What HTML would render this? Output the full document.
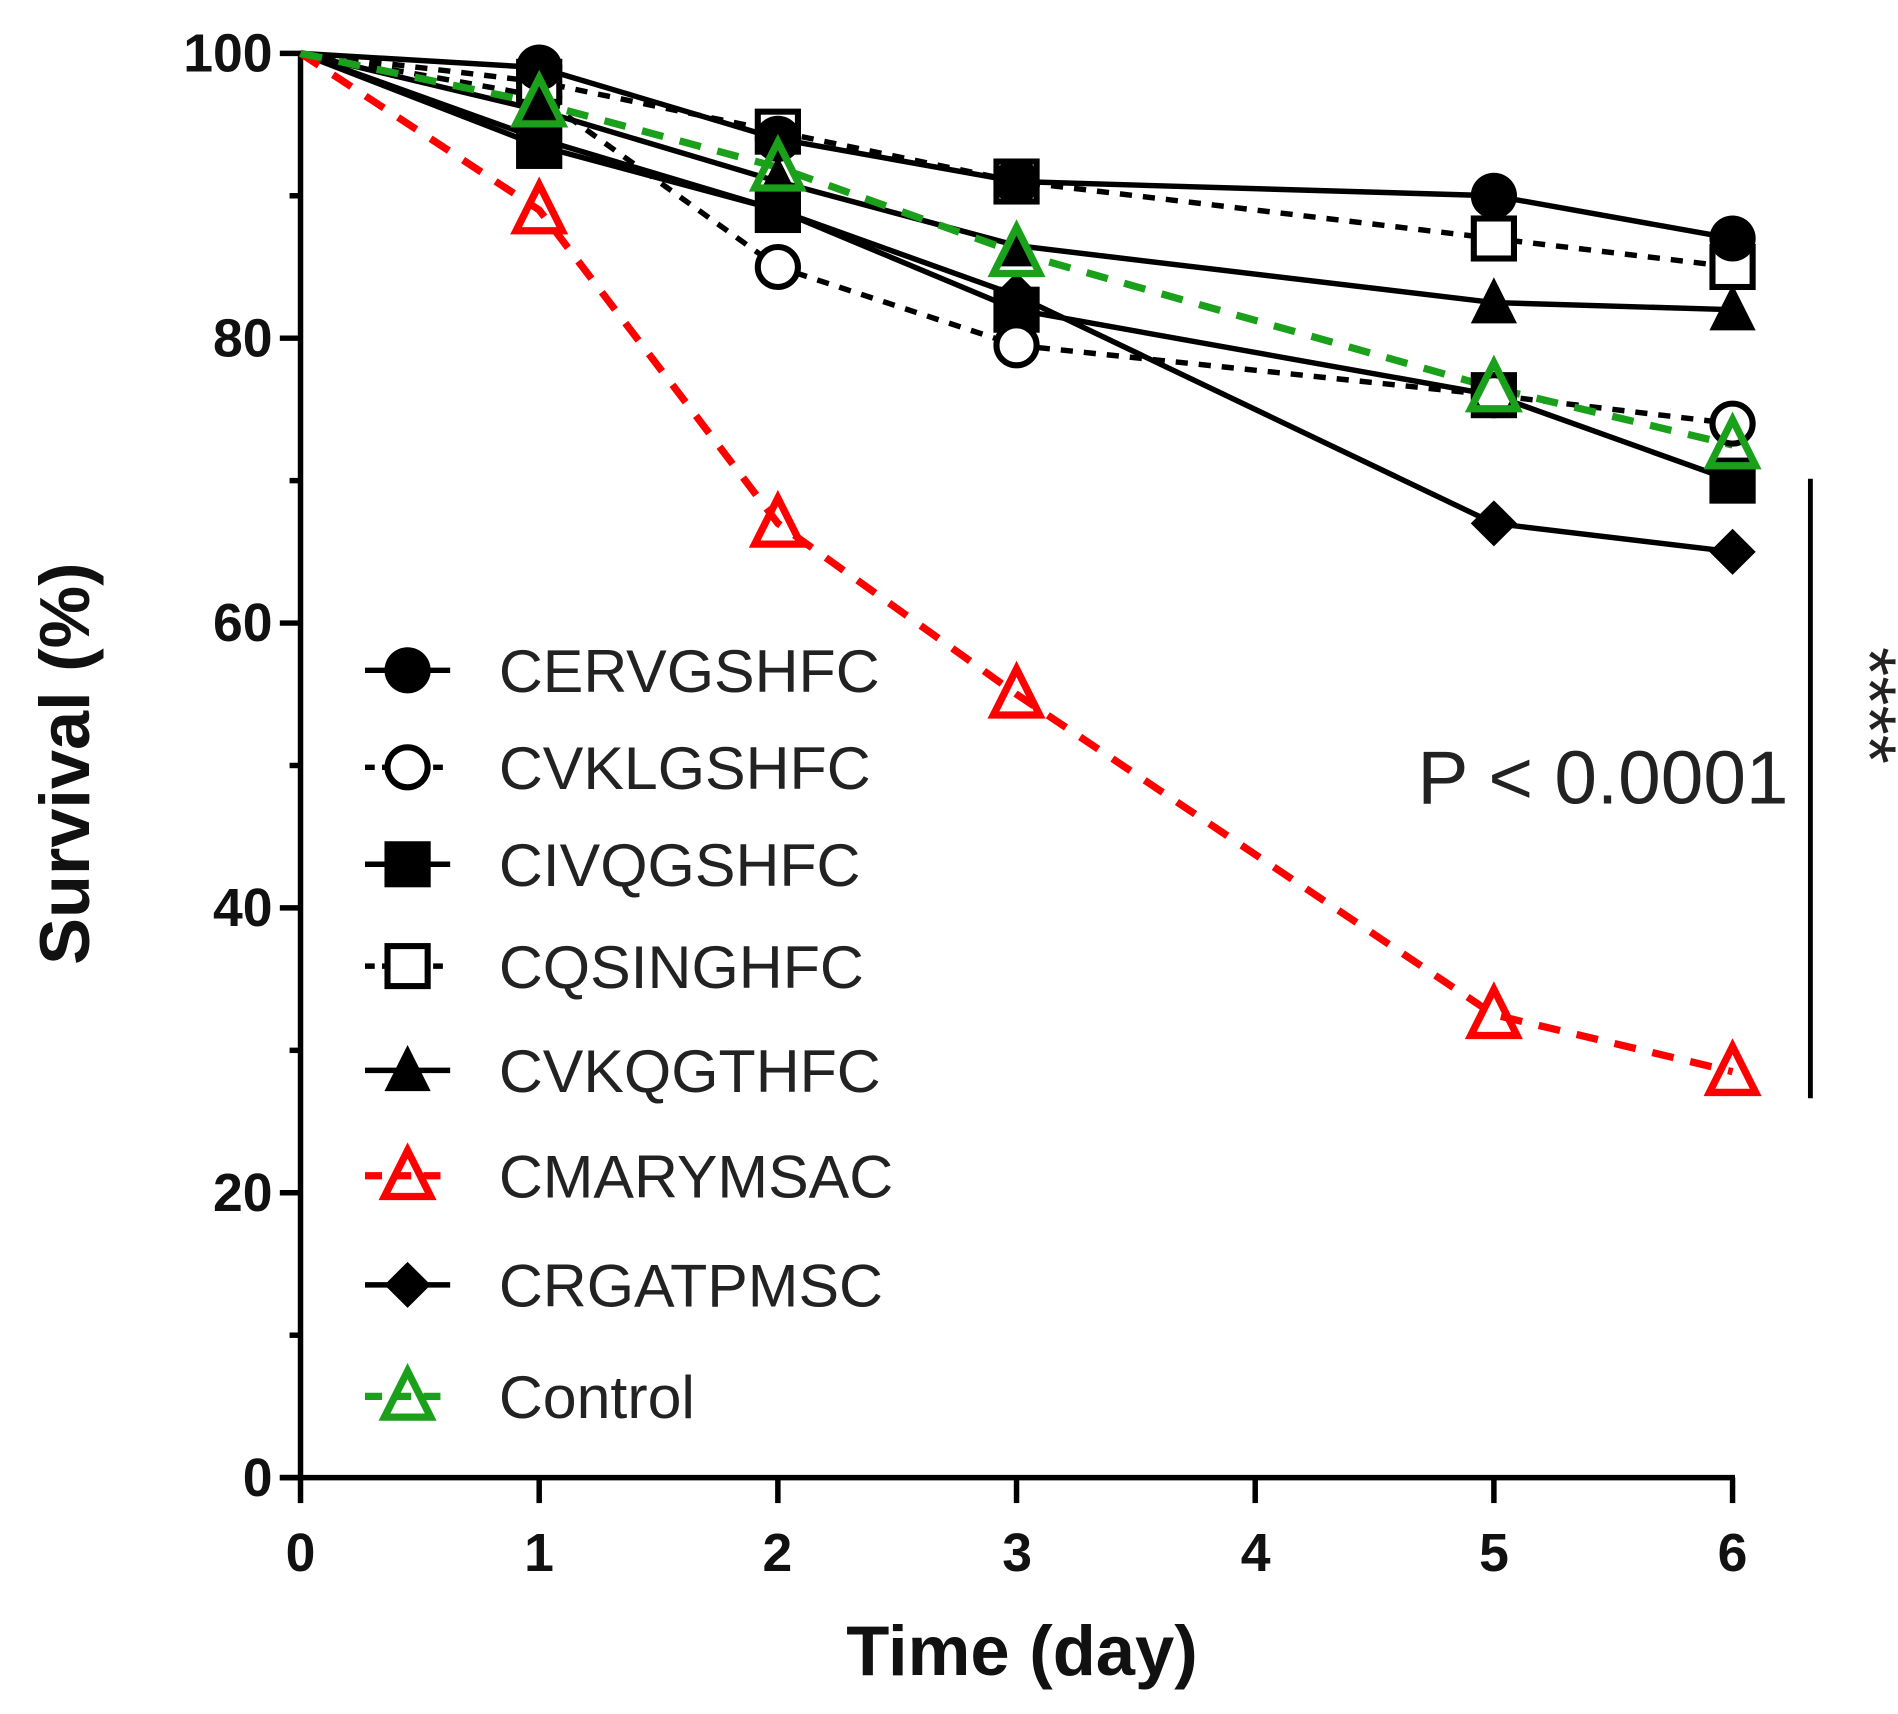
<!DOCTYPE html>
<html><head><meta charset="utf-8"><style>
html,body{margin:0;padding:0;background:#fff;}
svg{display:block;}
text{font-family:"Liberation Sans",Arial,sans-serif;}
</style></head><body>
<svg id="s" width="1898" height="1714" viewBox="0 0 1560 1414" preserveAspectRatio="none" xmlns="http://www.w3.org/2000/svg">
<rect width="1560" height="1414" fill="#fff"/>
<g id="axes" stroke="#000" stroke-width="4.5" fill="none">
<line x1="247" y1="42" x2="247" y2="1221"/>
<line x1="230" y1="1219" x2="1426" y2="1219"/>
</g>
<g id="ticks" stroke="#000" stroke-width="4.5"></g>
<g id="lines"></g>
<g font-weight="bold" font-size="44" fill="#111" text-anchor="end">
<text x="224" y="59">100</text><text x="224" y="294">80</text><text x="224" y="529">60</text>
<text x="224" y="764">40</text><text x="224" y="999">20</text><text x="224" y="1234">0</text>
</g>
<g font-weight="bold" font-size="44" fill="#111" text-anchor="middle">
<text x="247" y="1296">0</text><text x="443" y="1296">1</text><text x="639" y="1296">2</text>
<text x="836" y="1296">3</text><text x="1032" y="1296">4</text><text x="1228" y="1296">5</text><text x="1424" y="1296">6</text>
</g>
<text x="840" y="1382" font-weight="bold" font-size="58" text-anchor="middle" fill="#111">Time (day)</text>
<text transform="translate(73,630) rotate(-90)" font-weight="bold" font-size="58" text-anchor="middle" fill="#111">Survival (%)</text>
<text x="1165" y="663" font-size="62" fill="#222" textLength="305" lengthAdjust="spacingAndGlyphs">P &lt; 0.0001</text>
<line x1="1488" y1="395" x2="1488" y2="906" stroke="#000" stroke-width="4"/>
<text transform="translate(1515,582) rotate(90)" font-size="62" text-anchor="middle" fill="#222">****</text>
<g id="legend" font-size="50" fill="#222"></g>
</svg>
<script>
var NS="http://www.w3.org/2000/svg";
function el(p,t,a){var e=document.createElementNS(NS,t);for(var k in a)e.setAttribute(k,a[k]);p.appendChild(e);return e;}
var tk=document.getElementById('ticks');
for(var v=0;v<=100;v+=10){var y=1219-11.75*v;el(tk,'line',{x1:v%20==0?230:238,y1:y,x2:247,y2:y});}
[0,1,2,3,4,5,6].forEach(function(d){var x=247+196.17*d;el(tk,'line',{x1:x,y1:1219,x2:x,y2:1240});});
var days=[0,1,2,3,5,6];
function X(d){return 247+196.17*d;}function Y(v){return 1219-11.75*v;}
var S=[
{n:'CRGATPMSC',m:'diamond',c:'#000',dash:null,d:[100,94,89,83,67,65]},
{n:'CIVQGSHFC',m:'fsq',c:'#000',dash:null,d:[100,93.5,89,82,76,70]},
{n:'CVKLGSHFC',m:'ocirc',c:'#000',dash:'10,9',d:[100,97,85,79.5,76,74]},
{n:'CQSINGHFC',m:'osq',c:'#000',dash:'10,9',d:[100,98,94.5,91,87,85]},
{n:'CVKQGTHFC',m:'ftri',c:'#000',dash:null,d:[100,96,91,86.5,82.5,82]},
{n:'CERVGSHFC',m:'fcirc',c:'#000',dash:null,d:[100,99,94,91,90,87]},
{n:'CMARYMSAC',m:'otri',c:'#f00',dash:'18,14',d:[100,89,67,55,32.5,28.5]},
{n:'Control',m:'otri',c:'#1aa01a',dash:'18,14',d:[100,96.5,92,86,76.5,72.5]}
];
function marker(g,t,x,y,c,sc){sc=sc||1;var r=19*sc;
if(t=='fcirc')el(g,'circle',{cx:x,cy:y,r:r,fill:c});
if(t=='ocirc'){el(g,'circle',{cx:x,cy:y,r:r-2.5,fill:'#fff',stroke:c,'stroke-width':5});}
if(t=='fsq')el(g,'rect',{x:x-r,y:y-r,width:2*r,height:2*r,fill:c});
if(t=='osq')el(g,'rect',{x:x-r+2.5,y:y-r+2.5,width:2*r-5,height:2*r-5,fill:'#fff',stroke:c,'stroke-width':5});
if(t=='ftri')el(g,'polygon',{points:(x-r)+','+(y+r*0.9)+' '+(x+r)+','+(y+r*0.9)+' '+x+','+(y-r*1.1),fill:c});
if(t=='otri')el(g,'polygon',{points:(x-r)+','+(y+r*0.9)+' '+(x+r)+','+(y+r*0.9)+' '+x+','+(y-r*1.1),fill:'none',stroke:c,'stroke-width':6});
if(t=='diamond')el(g,'polygon',{points:x+','+(y-r)+' '+(x+r)+','+y+' '+x+','+(y+r)+' '+(x-r)+','+y,fill:c});
}
var L=document.getElementById('lines');
S.forEach(function(s){var pts=s.d.map(function(v,i){return X(days[i])+','+Y(v);}).join(' ');
var a={points:pts,fill:'none',stroke:s.c,'stroke-width':s.c!='#000'?6:4.5};if(s.dash)a['stroke-dasharray']=s.dash;el(L,'polyline',a);});
S.forEach(function(s){s.d.forEach(function(v,i){if(i>0)marker(L,s.m,X(days[i]),Y(v),s.c);});});
var order=['CERVGSHFC','CVKLGSHFC','CIVQGSHFC','CQSINGHFC','CVKQGTHFC','CMARYMSAC','CRGATPMSC','Control'];
var ly=[553,633,713,797,883,970,1060,1152];
var LG=document.getElementById('legend');
order.forEach(function(n,i){var s=S.filter(function(q){return q.n==n;})[0];var y=ly[i];
var a={x1:300,y1:y,x2:370,y2:y,stroke:s.c,'stroke-width':s.c!='#000'?6:4.5};if(s.dash)a['stroke-dasharray']=s.c=='#000'?'8,6':'14,10';
el(LG,'line',a);marker(LG,s.m,335,y,s.c);
var t=el(LG,'text',{x:410,y:y+18});t.textContent=n;});
</script>
</body></html>
